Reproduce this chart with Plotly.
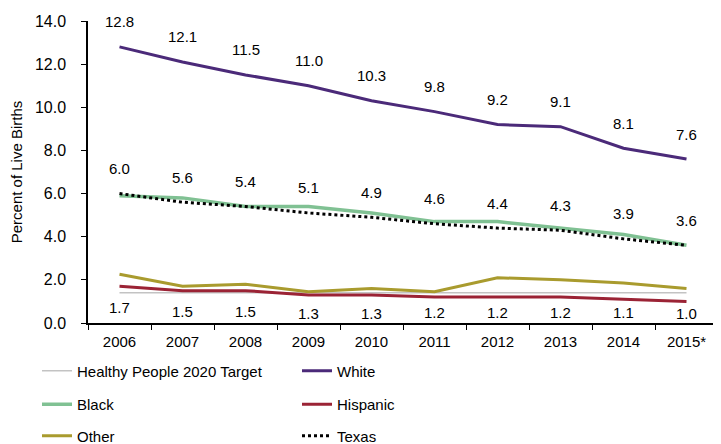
import plotly.graph_objects as go

years = ["2006", "2007", "2008", "2009", "2010", "2011", "2012", "2013", "2014", "2015*"]
target = [1.4] * 10
white = [12.8, 12.1, 11.5, 11.0, 10.3, 9.8, 9.2, 9.1, 8.1, 7.6]
black = [5.9, 5.8, 5.4, 5.4, 5.1, 4.7, 4.7, 4.4, 4.1, 3.6]
hispanic = [1.7, 1.5, 1.5, 1.3, 1.3, 1.2, 1.2, 1.2, 1.1, 1.0]
other = [2.26, 1.7, 1.8, 1.45, 1.6, 1.45, 2.1, 2.0, 1.85, 1.6]
texas = [6.0, 5.6, 5.4, 5.1, 4.9, 4.6, 4.4, 4.3, 3.9, 3.6]
y_ticks = [0, 2, 4, 6, 8, 10, 12, 14]

FONT = "Liberation Sans Narrow, Arial Narrow, Liberation Sans, Arial, sans-serif"
FS = 15
# the page body adds an 8px offset, so the figure is 8px smaller than the window
W, H = 713, 436
ML, MR, MT, MB = 80, 3, 13, 121
PLOT_H = H - MT - MB
PX_PER_UNIT = PLOT_H / 14.0

fig = go.Figure()
series = [
    ("Healthy People 2020 Target", target, dict(color="#c3c3c3", width=1.5), "legend"),
    ("White", white, dict(color="#4b2a79", width=3), "legend"),
    ("Black", black, dict(color="#80c193", width=3.5), "legend2"),
    ("Hispanic", hispanic, dict(color="#9b2335", width=3), "legend2"),
    ("Other", other, dict(color="#a99b2e", width=3), "legend3"),
    ("Texas", texas, dict(color="#000000", width=3, dash="dot"), "legend3"),
]
for name, vals, line, lg in series:
    fig.add_trace(go.Scatter(x=years, y=vals, mode="lines", name=name, line=line, legend=lg))

annotations = []
for vals, below in [(white, False), (texas, False), (hispanic, True)]:
    for i, v in enumerate(vals):
        if below:
            shift = max(-21, 10 - v * PX_PER_UNIT)
        else:
            shift = 25
        annotations.append(dict(x=i, y=v, xref="x", yref="y", text=f"{v:.1f}", showarrow=False,
                                yshift=shift, font=dict(family=FONT, size=FS, color="#000000")))

leg_common = dict(orientation="h", xanchor="left", yanchor="middle", entrywidth=215,
                  xref="container", yref="container",
                  font=dict(family=FONT, size=FS, color="#000000"), bgcolor="rgba(0,0,0,0)",
                  x=29 / W, itemwidth=30)
fig.update_layout(
    width=W, height=H,
    margin=dict(l=ML, r=MR, t=MT, b=MB, autoexpand=False),
    paper_bgcolor="white", plot_bgcolor="white",
    font=dict(family=FONT, size=FS, color="#000000"),
    annotations=annotations,
    legend=dict(**leg_common, y=1 - 363 / H),
    legend2=dict(**leg_common, y=1 - 396.5 / H),
    legend3=dict(**leg_common, y=1 - 428 / H),
    xaxis=dict(type="category", range=[-0.5, 9.5], tickson="boundaries", ticks="outside",
               ticklen=5, tickcolor="#000", showline=True, linecolor="#000", linewidth=1.5,
               showgrid=False, tickfont=dict(family=FONT, size=FS), ticklabelstandoff=4),
    yaxis=dict(range=[0, 14], tickvals=y_ticks, ticktext=[f"{t:.1f}" for t in y_ticks],
               ticks="outside", ticklen=5, tickcolor="#000", showline=True, linecolor="#000",
               linewidth=1.5, showgrid=False, zeroline=False, ticklabelstandoff=12,
               title=dict(text="Percent of Live Births", font=dict(family=FONT, size=FS), standoff=12),
               tickfont=dict(family=FONT, size=16)),
)
fig.write_html("out.html")
